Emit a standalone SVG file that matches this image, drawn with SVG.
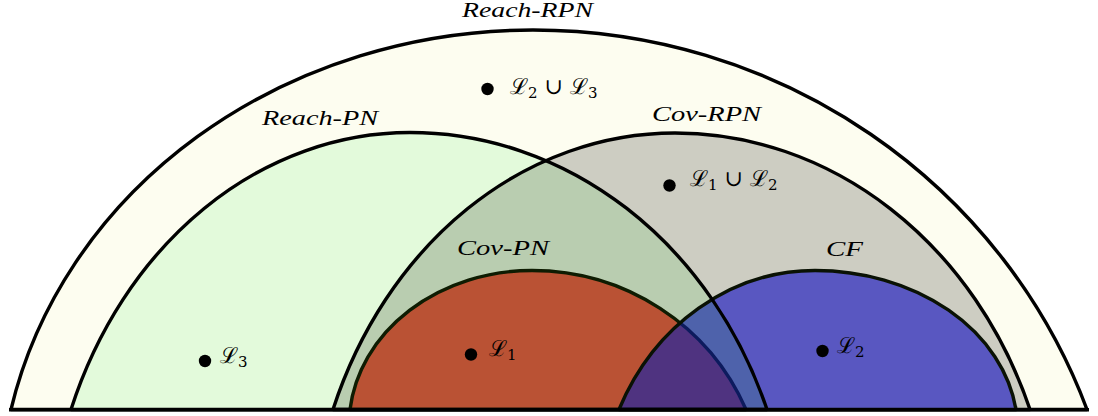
<svg xmlns="http://www.w3.org/2000/svg" width="1098" height="416" viewBox="0 0 1098 416">
<style>
.set{font-family:"Liberation Serif",serif;font-style:italic;font-size:22px;fill:#000}
.math{font-family:"DejaVu Serif",serif;font-size:22px;fill:#000}
.sub{font-size:15px}
.ol{fill:none;stroke:#000;stroke-width:3.4;stroke-linejoin:round}
.dot{fill:#000}
</style>
<defs>
<path id="p-rrpn" d="M11,409.5 A533.8,480 0 0 1 533,30 A590.4,580 0 0 1 1087,409.5 Z"/>
<path id="p-rpn" d="M71,409.5 A362.7,430 0 0 1 410,132.5 A382,430 0 0 1 767,409.5 Z"/>
<path id="p-crpn" d="M333,409.5 A366.1,430 0 0 1 675,133 A380,430 0 0 1 1030,409.5 Z"/>
<path id="p-cpn" d="M350,409.5 A183,155 0 0 1 532,270.5 A233,230 0 0 1 746,409.5 Z"/>
<path id="p-cf" d="M619,409.5 A216.1,240 0 0 1 815,270.5 A202.8,160 0 0 1 1016,409.5 Z"/>
<clipPath id="c-rpn"><use href="#p-rpn"/></clipPath>
<clipPath id="c-cpn"><use href="#p-cpn"/></clipPath>
<clipPath id="c-cf"><use href="#p-cf"/></clipPath>
</defs>

<g id="reach-rpn">
<use href="#p-rrpn" fill="#fdfdf0"/>
<use href="#p-rrpn" class="ol"/>
<text class="set" x="462" y="17" textLength="131" lengthAdjust="spacingAndGlyphs" style="font-size:21px">Reach-RPN</text>
</g>

<g id="reach-pn">
<use href="#p-rpn" fill="#e3fadb"/>
<text class="set" x="262" y="125" textLength="116" lengthAdjust="spacingAndGlyphs">Reach-PN</text>
</g>

<g id="cov-rpn">
<use href="#p-crpn" fill="#cdcdc2"/>
<use href="#p-crpn" fill="#b9cdb0" clip-path="url(#c-rpn)"/>
<use href="#p-crpn" class="ol"/>
<text class="set" x="652" y="121" textLength="109" lengthAdjust="spacingAndGlyphs">Cov-RPN</text>
</g>

<g id="cov-pn">
<use href="#p-cpn" fill="#ba5234"/>
<use href="#p-cpn" class="ol" style="stroke:#0e1c02"/>
<text class="set" x="457" y="255" textLength="92" lengthAdjust="spacingAndGlyphs">Cov-PN</text>
</g>

<g id="cf">
<use href="#p-cf" fill="#5957c1"/>
<use href="#p-cf" fill="#4e62ab" clip-path="url(#c-rpn)"/>
<use href="#p-cf" fill="#4f3380" clip-path="url(#c-cpn)"/>
<use href="#p-cpn" class="ol" style="stroke:#0d1b5e" clip-path="url(#c-cf)"/>
<use href="#p-cf" class="ol" style="stroke:#0a1204"/>
<text class="set" x="826" y="256" textLength="37" lengthAdjust="spacingAndGlyphs">CF</text>
</g>

<g id="reach-pn-outline">
<use href="#p-rpn" class="ol"/>
</g>

<g id="baseline">
<line x1="9" y1="409.8" x2="1089" y2="409.8" stroke="#000" stroke-width="3.6"/>
</g>

<g id="l23">
<circle class="dot" cx="487.5" cy="89" r="6.2"/>
<text class="math" x="510" y="94">ℒ<tspan class="sub" dy="4">2</tspan><tspan dy="-4"> ∪ ℒ</tspan><tspan class="sub" dy="4">3</tspan></text>
</g>
<g id="l12">
<circle class="dot" cx="669.5" cy="185.5" r="6.2"/>
<text class="math" x="690" y="186">ℒ<tspan class="sub" dy="4">1</tspan><tspan dy="-4"> ∪ ℒ</tspan><tspan class="sub" dy="4">2</tspan></text>
</g>
<g id="l3">
<circle class="dot" cx="205" cy="361" r="6.2"/>
<text class="math" x="220" y="362.5">ℒ<tspan class="sub" dy="4">3</tspan></text>
</g>
<g id="l1">
<circle class="dot" cx="471" cy="354.5" r="6.2"/>
<text class="math" x="489" y="355.5">ℒ<tspan class="sub" dy="4">1</tspan></text>
</g>
<g id="l2">
<circle class="dot" cx="822.5" cy="351" r="6.2"/>
<text class="math" x="837" y="352.5">ℒ<tspan class="sub" dy="4">2</tspan></text>
</g>
</svg>
